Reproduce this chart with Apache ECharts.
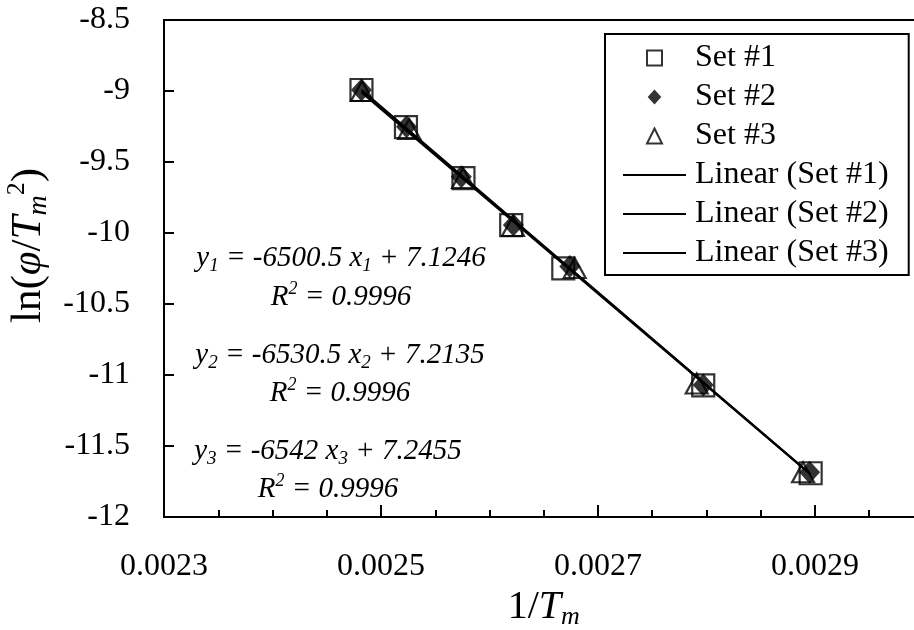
<!DOCTYPE html>
<html>
<head>
<meta charset="utf-8">
<script src="https://cdn.jsdelivr.net/npm/echarts@6/dist/echarts.min.js"></script>
<style>html,body{margin:0;padding:0;background:#fff}#c{width:914px;height:630px}</style>
</head>
<body>
<div id="c"></div>
<script>
// ---- data ----
const setNames = ['Set #1', 'Set #2', 'Set #3'];
const lineNames = ['Linear (Set #1)', 'Linear (Set #2)', 'Linear (Set #3)'];
const x1 = [0.002482, 0.002523, 0.002576, 0.002620, 0.002668, 0.002797, 0.002896];
const y1 = [-8.993, -9.254, -9.613, -9.944, -10.249, -11.073, -11.692];
const x2 = [0.002482, 0.0025235, 0.002574, 0.002622, 0.002674, 0.002797, 0.002895];
const y2 = [-8.993, -9.251, -9.604, -9.944, -10.236, -11.070, -11.685];
const x3 = [0.0024825, 0.002526, 0.0025756, 0.0026217, 0.0026785, 0.002791, 0.002889];
const y3 = [-9.0, -9.268, -9.613, -9.951, -10.246, -11.06, -11.685];
const slopes = [-6500.5, -6530.5, -6542];
const intercepts = [7.1246, 7.2135, 7.2455];
const r2 = ['0.9996', '0.9996', '0.9996'];
const xTickLabels = ['0.0023', '0.0025', '0.0027', '0.0029'];
const yTickLabels = ['-12', '-11.5', '-11', '-10.5', '-10', '-9.5', '-9', '-8.5'];

// ---- chart ----
const FF = 'Liberation Serif';
const xs = [x1, x2, x3], ys = [y1, y2, y3];
const chart = echarts.init(document.getElementById('c'), null, {renderer: 'canvas'});

const GRID = {left: 164, top: 20, width: 759.5, height: 497, containLabel: false, outerBoundsMode: 'none'};

const symbols = [
  {symbol: 'rect', symbolSize: 22, itemStyle: {color: 'rgba(0,0,0,0)', borderColor: '#000', borderWidth: 2.2}},
  {symbol: 'diamond', symbolSize: [21, 23], itemStyle: {color: '#000', borderWidth: 0}},
  {symbol: 'triangle', symbolSize: [22, 20], itemStyle: {color: 'rgba(0,0,0,0)', borderColor: '#000', borderWidth: 2.2}}
];
const legendIcons = [
  {icon: 'path://M0,0H10V10H0Z', itemStyle: {color: 'rgba(0,0,0,0)', borderColor: '#000', borderWidth: 2}},
  {icon: 'path://M5,0L10,5.5L5,11L0,5.5Z', itemStyle: {color: '#000', borderWidth: 0}},
  {icon: 'path://M5,0L10,10H0Z', itemStyle: {color: 'rgba(0,0,0,0)', borderColor: '#000', borderWidth: 2}}
];

const series = [];
for (let k = 0; k < 3; k++) {
  series.push(Object.assign({
    name: setNames[k], type: 'scatter', xAxisIndex: 0, yAxisIndex: 0,
    data: xs[k].map((v, i) => [v, ys[k][i]]), z: 2 + k * 0.1,
    emphasis: {disabled: true}
  }, symbols[k]));
}
for (let k = 0; k < 3; k++) {
  const xmin = Math.min(...xs[k]), xmax = Math.max(...xs[k]);
  series.push({
    name: lineNames[k], type: 'line', xAxisIndex: 0, yAxisIndex: 0,
    data: [[xmin, slopes[k] * xmin + intercepts[k]], [xmax, slopes[k] * xmax + intercepts[k]]],
    symbol: 'none', showSymbol: false, z: 5,
    lineStyle: {color: '#000', width: 2}, itemStyle: {color: '#000'},
    emphasis: {disabled: true}
  });
}

const legendData = setNames.map((n, k) => Object.assign({name: n}, legendIcons[k]))
  .concat(lineNames.map(n => ({name: n, icon: 'path://M0,0H63V2H0Z', itemStyle: {color: '#000', borderWidth: 0}})));

const richEq = {
  i: {fontFamily: FF, fontStyle: 'italic', fontSize: 29, lineHeight: 34, color: '#000'},
  s: {fontFamily: FF, fontStyle: 'italic', fontSize: 19, lineHeight: 19, verticalAlign: 'bottom', color: '#000'},
  p: {fontFamily: FF, fontStyle: 'italic', fontSize: 18, lineHeight: 18, verticalAlign: 'top', color: '#000'}
};
const eqCenterX = [341, 340, 328];
const eqY = [258, 355, 451];
const r2Y = [297, 393, 489];
const graphics = [];
for (let k = 0; k < 3; k++) {
  graphics.push({
    type: 'text', z: 10,
    style: {
      x: eqCenterX[k], y: eqY[k], align: 'center', verticalAlign: 'middle',
      textAlign: 'center', textVerticalAlign: 'middle',
      text: '{i|y}{s|' + (k + 1) + '}{i| = ' + slopes[k] + ' }{i|x}{s|' + (k + 1) + '}{i| + ' + intercepts[k] + '}',
      rich: richEq
    }
  });
  graphics.push({
    type: 'text', z: 10,
    style: {
      x: eqCenterX[k], y: r2Y[k], align: 'center', verticalAlign: 'middle',
      textAlign: 'center', textVerticalAlign: 'middle',
      text: '{i|R}{p|2}{i| = ' + r2[k] + '}',
      rich: richEq
    }
  });
}

const option = {
  animation: false,
  backgroundColor: '#fff',
  grid: [
    Object.assign({show: true, borderColor: '#000', borderWidth: 2, backgroundColor: 'rgba(0,0,0,0)'}, GRID),
    Object.assign({show: false}, GRID)
  ],
  xAxis: [{
    type: 'value', gridIndex: 0, min: 0.0023, max: 0.003, interval: 0.0002,
    axisLine: {show: true, onZero: false, lineStyle: {color: '#000', width: 2}},
    axisTick: {show: true, inside: true, length: 12, lineStyle: {color: '#000', width: 2}},
    splitLine: {show: false},
    axisLabel: {
      margin: 34, color: '#000', fontFamily: FF, fontSize: 32,
      formatter: function (v) {
        const s = Number(v).toFixed(4);
        return xTickLabels.indexOf(s) >= 0 ? s : '';
      }
    },
    name: '{t|1/}{i|T}{s|m}', nameLocation: 'middle', nameGap: 60,
    nameTextStyle: {
      color: '#000', fontFamily: FF, fontSize: 40,
      rich: {
        t: {fontFamily: FF, fontSize: 40, lineHeight: 44, color: '#000'},
        i: {fontFamily: FF, fontStyle: 'italic', fontSize: 40, lineHeight: 44, color: '#000'},
        s: {fontFamily: FF, fontStyle: 'italic', fontSize: 26, lineHeight: 32, verticalAlign: 'bottom', color: '#000'}
      }
    }
  }, {
    type: 'value', gridIndex: 1, min: 0.0023, max: 0.003, interval: 0.00005,
    axisLine: {show: false},
    axisTick: {show: true, inside: true, length: 7, lineStyle: {color: '#000', width: 2}},
    axisLabel: {show: false}, splitLine: {show: false}
  }],
  yAxis: [{
    type: 'value', gridIndex: 0, min: -12, max: -8.5, interval: 0.5,
    axisLine: {show: true, onZero: false, lineStyle: {color: '#000', width: 2}},
    axisTick: {show: true, inside: true, length: 10, lineStyle: {color: '#000', width: 2}},
    splitLine: {show: false},
    axisLabel: {
      margin: 34, color: '#000', fontFamily: FF, fontSize: 32,
      formatter: function (v) {
        const s = String(Math.round(v * 10) / 10);
        return yTickLabels.indexOf(s) >= 0 ? s : '';
      }
    },
    name: '{t|ln(}{i|φ}{t|/}{i|T}{s|m}{p|2}{t|)}', nameLocation: 'middle', nameGap: 108, nameRotate: 90,
    nameTextStyle: {
      color: '#000', fontFamily: FF, fontSize: 43, padding: [0, 0, 0, 46],
      rich: {
        t: {fontFamily: FF, fontSize: 43, lineHeight: 48, color: '#000'},
        i: {fontFamily: FF, fontStyle: 'italic', fontSize: 43, lineHeight: 48, color: '#000'},
        s: {fontFamily: FF, fontStyle: 'italic', fontSize: 28, lineHeight: 34, verticalAlign: 'bottom', color: '#000'},
        p: {fontFamily: FF, fontSize: 26, lineHeight: 30, verticalAlign: 'top', color: '#000'}
      }
    }
  }, {
    type: 'value', gridIndex: 1, min: -12, max: -8.5, show: false
  }],
  legend: {
    orient: 'vertical', left: 605, top: 34, padding: [8, 20, 6, 18],
    itemWidth: 63, itemHeight: 15, itemGap: 7, symbolKeepAspect: true,
    borderColor: '#000', borderWidth: 2, borderRadius: 0, backgroundColor: '#fff',
    selectedMode: false,
    textStyle: {fontFamily: FF, fontSize: 32, lineHeight: 32, color: '#000', padding: [0, 0, 0, 4]},
    data: legendData
  },
  graphic: graphics,
  series: series
};
chart.setOption(option);
</script>
</body>
</html>
